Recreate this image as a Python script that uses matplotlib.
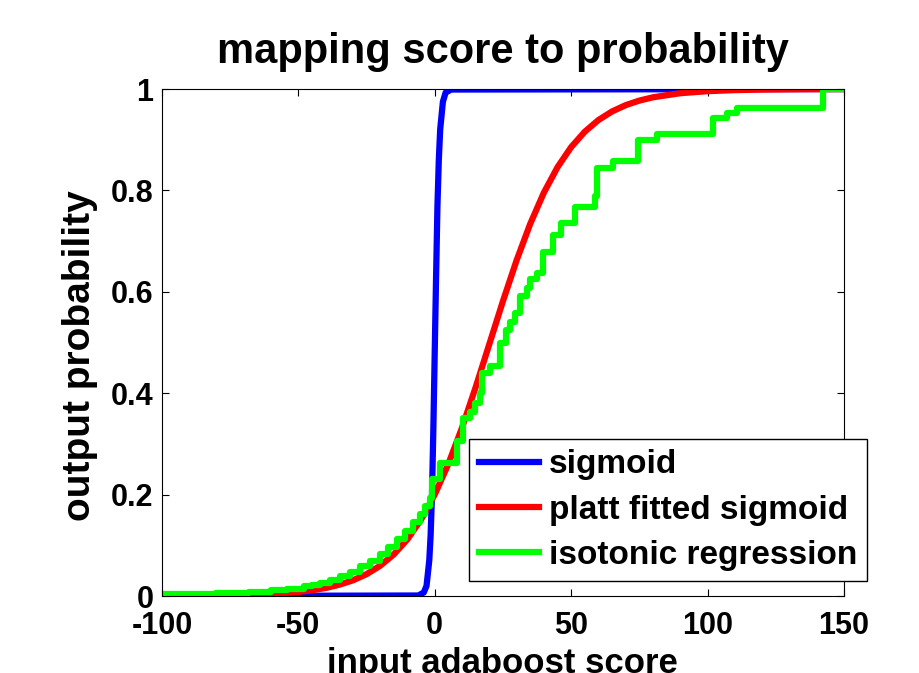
import matplotlib
matplotlib.use('Agg')
import matplotlib.pyplot as plt
from matplotlib.ticker import FuncFormatter

plt.rcParams['font.family'] = ['Liberation Sans', 'DejaVu Sans']
plt.rcParams['font.weight'] = 'bold'
plt.rcParams['axes.unicode_minus'] = False

# sigmoid (blue)
sig_x = [-100, -6, -4, -3, -2, -1.5, -1, -0.5, 0, 0.5, 1, 1.5, 2, 3, 4, 6, 150]
sig_y = [0, 0.001, 0.007, 0.02, 0.07, 0.12, 0.2, 0.33, 0.48, 0.63, 0.77, 0.86, 0.92, 0.975, 0.993, 0.999, 1]

# platt fitted sigmoid (red)
platt_x = [-100, -90, -80, -70, -60, -50, -45, -40, -35, -30, -25, -20, -15, -10, -5, 0,
           5, 10, 15, 20, 25, 30, 35, 40, 45, 50, 55, 60, 65, 70, 75, 80, 90, 100, 110, 120, 135, 150]
platt_y = [0.0003, 0.0005, 0.001, 0.002, 0.004, 0.008, 0.0113, 0.0158, 0.0222, 0.0309, 0.043, 0.0597,
           0.082, 0.1118, 0.1507, 0.2001, 0.2605, 0.3318, 0.4117, 0.4965, 0.5815, 0.6619, 0.734, 0.7955,
           0.8457, 0.8854, 0.9158, 0.9388, 0.9558, 0.9682, 0.9772, 0.9837, 0.9918, 0.9958, 0.9979,
           0.9989, 0.9996, 0.9999]

# isotonic regression (green, step function)
iso_x = [-100, -80, -68, -60, -54, -48, -45, -42, -38.4, -34.8, -31.1, -27.4, -23.8, -20.1, -17.0,
         -14.0, -10.9, -7.9, -5.4, -3.6, -1.8, -1.1, 1.9, 8.0, 10.4, 12.9, 14.7, 16.6, 17.2, 20.2,
         23.9, 26.3, 27.5, 29.4, 31.2, 33.8, 34.9, 37.5, 39.7, 43.3, 46.3, 51.4, 58.6, 59.5, 65.3,
         74.5, 81.5, 102.0, 107.1, 110.8, 142.3, 150]
iso_y = [0.004, 0.006, 0.008, 0.011, 0.014, 0.019, 0.022, 0.026, 0.031, 0.039, 0.048, 0.059, 0.070,
         0.083, 0.096, 0.112, 0.128, 0.145, 0.161, 0.177, 0.194, 0.230, 0.262, 0.306, 0.352, 0.363,
         0.381, 0.400, 0.440, 0.454, 0.499, 0.525, 0.540, 0.558, 0.592, 0.607, 0.626, 0.637, 0.678,
         0.712, 0.736, 0.767, 0.790, 0.844, 0.858, 0.899, 0.911, 0.943, 0.953, 0.963, 1.0, 1.0]

x_ticks = [-100, -50, 0, 50, 100, 150]
y_ticks = [0, 0.2, 0.4, 0.6, 0.8, 1]

fig = plt.figure(figsize=(9.2, 6.73), dpi=100)
ax = fig.add_axes([0.176, 0.1144, 0.7413, 0.7533])

ax.plot(sig_x, sig_y, color='#0000ff', lw=4.5, label='sigmoid')
ax.plot(platt_x, platt_y, color='#ff0000', lw=4.5, label='platt fitted sigmoid')
ax.plot(iso_x, iso_y, color='#00ff00', lw=4.5, drawstyle='steps-post', label='isotonic regression')

ax.set_xlim(-100, 150)
ax.set_ylim(0, 1)
ax.set_xticks(x_ticks)
ax.set_yticks(y_ticks)
ax.yaxis.set_major_formatter(FuncFormatter(lambda v, p: '%g' % v))
ax.tick_params(axis='both', direction='in', length=5, width=0.8, top=True, right=True,
               labelsize=22)
ax.tick_params(axis='x', pad=11)
ax.tick_params(axis='y', pad=6)
for axis in ['top', 'bottom', 'left', 'right']:
    ax.spines[axis].set_linewidth(0.8)

ax.set_xlabel('input adaboost score', fontsize=25, fontweight='bold', labelpad=4)
ax.set_ylabel('output probability', fontsize=28, fontweight='bold')
ax.yaxis.set_label_coords(-0.094, 0.475)
ax.set_title('mapping score to probability', fontsize=30, fontweight='bold', pad=19)

leg = ax.legend(loc='lower left', bbox_to_anchor=(469 / 920, 1 - 581 / 673),
                bbox_transform=fig.transFigure, fontsize=24, frameon=True, fancybox=False,
                framealpha=1, edgecolor='k', borderpad=0.3, handlelength=1.8,
                handletextpad=0.3, labelspacing=0.43, borderaxespad=0)
leg.get_frame().set_linewidth(1.0)

plt.savefig('out.png', dpi=100)
plt.close()
